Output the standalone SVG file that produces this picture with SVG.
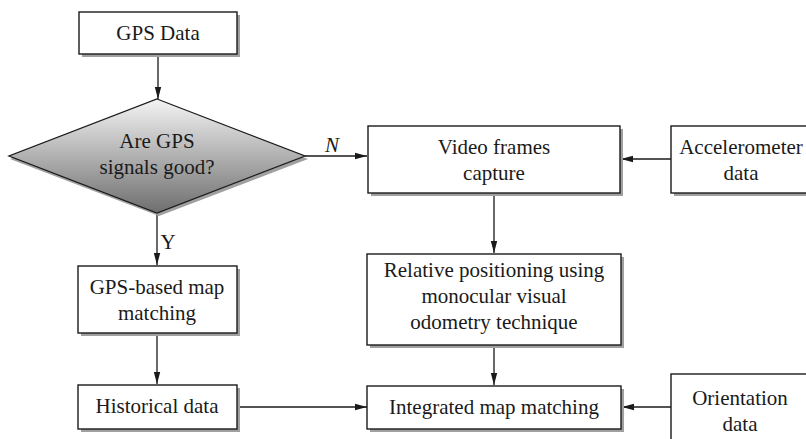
<svg xmlns="http://www.w3.org/2000/svg" width="806" height="439" viewBox="0 0 806 439">
<style>
.box{fill:#fff;stroke:#1a1a1a;stroke-width:1.4}
.sh{fill:#a0a0a0}
.t{font-family:"Liberation Serif","Times New Roman",serif;font-size:21px;fill:#1a1a1a;text-anchor:middle}
.c{stroke:#1a1a1a;stroke-width:1.3;fill:none}
</style>
<defs>
<marker id="ah" markerWidth="12" markerHeight="8" refX="12" refY="4" orient="auto" markerUnits="userSpaceOnUse">
<path d="M0,0.8 L12,4 L0,7.2 Z" fill="#1a1a1a"/>
</marker>
<linearGradient id="dg" x1="0" y1="0" x2="0" y2="1">
<stop offset="0" stop-color="#f4f4f4"/>
<stop offset="1" stop-color="#6e6e6e"/>
</linearGradient>
</defs>
<rect width="806" height="439" fill="#fff"/>
<g id="connectors">
<line class="c" x1="158" y1="54" x2="158" y2="99" marker-end="url(#ah)"/>
<line class="c" x1="305" y1="156" x2="367" y2="156" marker-end="url(#ah)"/>
<text class="t" x="332" y="152" style="font-style:italic">N</text>
<line class="c" x1="671" y1="159" x2="621" y2="159" marker-end="url(#ah)"/>
<line class="c" x1="494" y1="193" x2="494" y2="253" marker-end="url(#ah)"/>
<line class="c" x1="157" y1="213" x2="157" y2="265" marker-end="url(#ah)"/>
<text class="t" x="168" y="249">Y</text>
<line class="c" x1="157" y1="333" x2="157" y2="384" marker-end="url(#ah)"/>
<line class="c" x1="494" y1="345" x2="494" y2="385" marker-end="url(#ah)"/>
<line class="c" x1="237" y1="407" x2="367" y2="407" marker-end="url(#ah)"/>
<line class="c" x1="671" y1="407" x2="622" y2="407" marker-end="url(#ah)"/>
</g>
<g id="gps-data">
<rect class="sh" x="82" y="15" width="158" height="42"/>
<rect class="box" x="79" y="12" width="158" height="42"/>
<text class="t" x="158" y="40">GPS Data</text>
</g>
<g id="decision">
<polygon points="159,102 308,159 159,216 10,159" fill="#a0a0a0"/>
<polygon points="157,99 305,156 157,213 9,156" fill="url(#dg)" stroke="#1a1a1a" stroke-width="1.3"/>
<text class="t" x="157" y="148">Are GPS</text>
<text class="t" x="157" y="174">signals good?</text>
</g>
<g id="video">
<rect class="sh" x="371" y="129" width="252" height="67"/>
<rect class="box" x="368" y="126" width="252" height="67"/>
<text class="t" x="494" y="154">Video frames</text>
<text class="t" x="494" y="180">capture</text>
</g>
<g id="accel">
<rect class="sh" x="674" y="129" width="140" height="67"/>
<rect class="box" x="671" y="126" width="140" height="67"/>
<text class="t" x="741" y="154">Accelerometer</text>
<text class="t" x="741" y="180">data</text>
</g>
<g id="relative">
<rect class="sh" x="370" y="257" width="254" height="91"/>
<rect class="box" x="367" y="254" width="254" height="91"/>
<text class="t" x="494" y="277">Relative positioning using</text>
<text class="t" x="494" y="303">monocular visual</text>
<text class="t" x="494" y="329">odometry technique</text>
</g>
<g id="integrated">
<rect class="sh" x="370" y="389" width="254" height="43"/>
<rect class="box" x="367" y="386" width="254" height="43"/>
<text class="t" x="494" y="414">Integrated map matching</text>
</g>
<g id="orientation">
<rect class="sh" x="674" y="377" width="140" height="70"/>
<rect class="box" x="671" y="374" width="140" height="70"/>
<text class="t" x="740" y="405">Orientation</text>
<text class="t" x="740" y="431">data</text>
</g>
<g id="gps-map">
<rect class="sh" x="81" y="269" width="159" height="67"/>
<rect class="box" x="78" y="266" width="159" height="67"/>
<text class="t" x="157" y="294">GPS-based map</text>
<text class="t" x="157" y="320">matching</text>
</g>
<g id="historical">
<rect class="sh" x="81" y="388" width="159" height="44"/>
<rect class="box" x="78" y="385" width="159" height="44"/>
<text class="t" x="157" y="413">Historical data</text>
</g>
</svg>
